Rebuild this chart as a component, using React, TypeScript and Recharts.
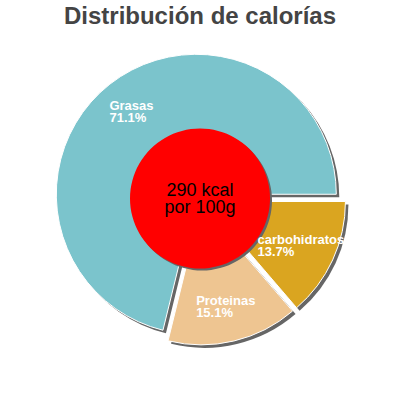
import { PieChart, Pie, Cell } from "recharts";

const categories = ["Grasas", "Proteinas", "carbohidratos"];
const shares = [71.1, 15.1, 13.7];
const colors = ["#7bc4cc", "#eec591", "#daa520"];
const centerLines = ["290 kcal", "por 100g"];
const title = "Distribución de calorías";

const data = categories.map((name, i) => ({ name, value: shares[i] }));
const total = shares.reduce((a, b) => a + b, 0);

const CX = 200;
const CY = 199;
const R = 140;
const EXPLODE = 6;
const SHADOW = 3;
const RAD = Math.PI / 180;
const LABEL_FONT = "bold 13px 'Liberation Sans', Arial, sans-serif";

// offset of each exploded slice, along its middle angle
const offsets = shares.map((v, i) => {
  const before = shares.slice(0, i).reduce((a, b) => a + b, 0);
  const mid = ((before + v / 2) / total) * 360;
  return { dx: EXPLODE * Math.cos(mid * RAD), dy: -EXPLODE * Math.sin(mid * RAD) };
});

const ctx = document.createElement("canvas").getContext("2d");
function textWidth(s: string) {
  if (!ctx) return s.length * 7;
  ctx.font = LABEL_FONT;
  return ctx.measureText(s).width;
}

function SliceLabel(props: any) {
  const { cx, cy, midAngle, name, value } = props;
  const r = 105;
  const bx = cx + r * Math.cos(-midAngle * RAD);
  const by = cy + r * Math.sin(-midAngle * RAD);
  const pct = `${value.toFixed(1)}%`;
  const w = Math.max(textWidth(name), textWidth(pct));
  const x = bx - w / 2;
  return (
    <text fill="#fff" style={{ font: LABEL_FONT }}>
      <tspan x={x} y={by - 1.5}>{name}</tspan>
      <tspan x={x} y={by + 10.5}>{pct}</tspan>
    </text>
  );
}

function CenterText(props: any) {
  const { cx, cy } = props;
  return (
    <text
      textAnchor="middle"
      fill="#000"
      style={{ fontFamily: "'Liberation Sans', Arial, sans-serif", fontSize: 18 }}
    >
      <tspan x={cx} y={cy - 2.5}>{centerLines[0]}</tspan>
      <tspan x={cx} y={cy + 14.5}>{centerLines[1]}</tspan>
    </text>
  );
}

function slicePie(i: number, shadow: boolean) {
  const { dx, dy } = offsets[i];
  const sx = shadow ? SHADOW : 0;
  return (
    <Pie
      key={(shadow ? "s" : "p") + i}
      data={data}
      dataKey="value"
      nameKey="name"
      cx={CX + dx + sx}
      cy={CY + dy + sx}
      outerRadius={R}
      startAngle={0}
      endAngle={360}
      isAnimationActive={false}
      labelLine={false}
      label={shadow ? false : (p: any) => (p.index === i ? <SliceLabel {...p} /> : null)}
    >
      {data.map((d, j) => (
        <Cell
          key={d.name}
          fill={j === i ? (shadow ? "#666" : colors[j]) : "transparent"}
          stroke={j === i && !shadow ? "#fff" : "none"}
          strokeWidth={1}
        />
      ))}
    </Pie>
  );
}

export default function App() {
  return (
    <div style={{ position: "absolute", left: 0, top: 0, width: 400, height: 400, background: "#fff" }}>
      <div
        style={{
          position: "absolute",
          left: 0,
          top: 4,
          width: 400,
          textAlign: "center",
          font: "bold 24px 'Liberation Sans', Arial, sans-serif",
          lineHeight: "24px",
          color: "#444",
        }}
      >
        {title}
      </div>
      <PieChart width={400} height={400} margin={{ top: 0, right: 0, bottom: 0, left: 0 }}>
        {categories.map((_, i) => slicePie(i, true))}
        {categories.map((_, i) => slicePie(i, false))}
        <Pie
          data={[{ name: "kcal", value: 1 }]}
          dataKey="value"
          cx={CX + 2}
          cy={CY + 1.5}
          outerRadius={70}
          fill="#666"
          stroke="none"
          isAnimationActive={false}
        />
        <Pie
          data={[{ name: "kcal", value: 1 }]}
          dataKey="value"
          cx={CX}
          cy={CY - 0.5}
          outerRadius={70}
          fill="#ff0000"
          stroke="none"
          isAnimationActive={false}
          labelLine={false}
          label={(p: any) => (p.index === 0 ? <CenterText cx={p.cx} cy={p.cy} /> : null)}
        />
      </PieChart>
    </div>
  );
}
